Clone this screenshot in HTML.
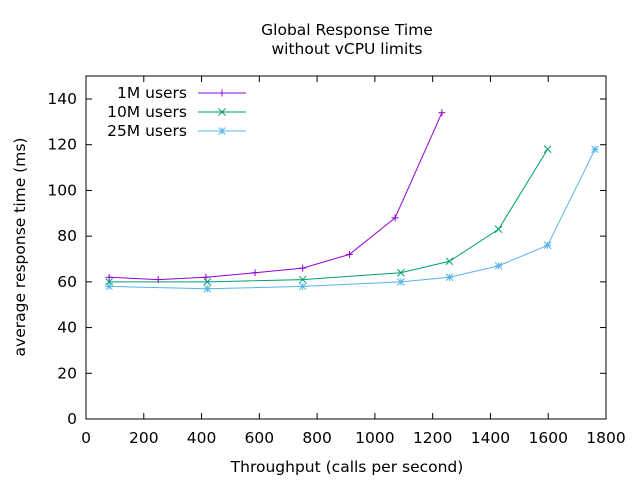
<!DOCTYPE html>
<html><head><meta charset="utf-8"><style>
body{margin:0;background:#fff;}
svg text{font-family:"DejaVu Sans",sans-serif;font-size:15.5px;fill:#000;}
</style></head><body>
<svg id="s" width="640" height="480" xmlns="http://www.w3.org/2000/svg">
<text x="347" y="35" text-anchor="middle">Global Response Time</text>
<text x="347" y="54" text-anchor="middle">without vCPU limits</text>
<rect x="86" y="76" width="520" height="343" fill="none" stroke="#000" stroke-width="1"/>
<g id="ax"></g>
<text x="347" y="472" text-anchor="middle">Throughput (calls per second)</text>
<text transform="translate(25,247) rotate(-90)" text-anchor="middle">average response time (ms)</text>
<text x="187" y="98" text-anchor="end">1M users</text>
<text x="187" y="117" text-anchor="end">10M users</text>
<text x="187" y="136" text-anchor="end">25M users</text>
<g id="d"></g>
</svg>
<script>
var NS="http://www.w3.org/2000/svg";
function X(v){return 86+v*520/1800}function Y(v){return 419-v*320/140}
function el(p,t,a,txt){var e=document.createElementNS(NS,t);for(var k in a)e.setAttribute(k,a[k]);if(txt!=null)e.textContent=txt;p.appendChild(e);return e}
var ax=document.getElementById('ax'),d=document.getElementById('d');
for(var v=0;v<=1800;v+=200){var x=X(v);el(ax,'line',{x1:x,x2:x,y1:419,y2:413,stroke:'#000'});el(ax,'line',{x1:x,x2:x,y1:76,y2:82,stroke:'#000'});el(ax,'text',{x:x,y:443,'text-anchor':'middle'},v)}
for(var v=0;v<=140;v+=20){var y=Y(v);el(ax,'line',{x1:86,x2:92,y1:y,y2:y,stroke:'#000'});el(ax,'line',{x1:606,x2:600,y1:y,y2:y,stroke:'#000'});el(ax,'text',{x:77,y:y+5,'text-anchor':'end'},v)}
var S=[
{c:'#9400d3',m:'+',ly:93,p:[[80,62],[250,61],[415,62],[585,64],[750,66],[912,72],[1070,88],[1232,134]]},
{c:'#009e73',m:'x',ly:112,p:[[80,60],[420,60],[750,61],[1090,64],[1258,69],[1428,83],[1598,118]]},
{c:'#56b4e9',m:'*',ly:131,p:[[80,58],[420,57],[750,58],[1090,60],[1258,62],[1428,67],[1598,76],[1762,118]]}];
function mark(x,y,m,c){var r=3.5,a={stroke:c,'stroke-width':1};
if(m!='x'){el(d,'line',Object.assign({x1:x-r,x2:x+r,y1:y,y2:y},a));el(d,'line',Object.assign({x1:x,x2:x,y1:y-r,y2:y+r},a))}
if(m!='+'){el(d,'line',Object.assign({x1:x-r,x2:x+r,y1:y-r,y2:y+r},a));el(d,'line',Object.assign({x1:x-r,x2:x+r,y1:y+r,y2:y-r},a))}}
S.forEach(function(s){el(d,'polyline',{points:s.p.map(function(q){return X(q[0])+','+Y(q[1])}).join(' '),fill:'none',stroke:s.c,'stroke-width':1});
s.p.forEach(function(q){mark(X(q[0]),Y(q[1]),s.m,s.c)});
el(d,'line',{x1:198,x2:246,y1:s.ly,y2:s.ly,stroke:s.c});mark(222,s.ly,s.m,s.c)});
</script>
</body></html>
